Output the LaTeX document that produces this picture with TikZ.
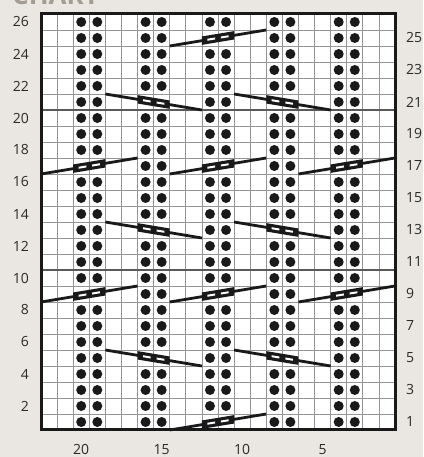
\documentclass[tikz,border=0pt]{standalone}
\usepackage{fontspec}
\setmainfont{Open Sans}
\usetikzlibrary{calc}
\definecolor{bgc}{HTML}{EAE7E2}
\definecolor{titlec}{HTML}{A39C93}
\definecolor{gridc}{HTML}{959595}
\definecolor{gridd}{HTML}{5A5A5A}
\definecolor{labc}{HTML}{2A2A2A}
\tikzset{
  gridline/.style={draw=gridc, line width=0.8pt},
  gridthick/.style={draw=gridd, line width=1.1pt},
  cable/.style={draw=black!90, line width=2.8pt},
  knitdot/.style={fill=black!90},
  lab/.style={inner sep=0pt, text=labc, font=\fontsize{14}{14}\selectfont},
  frame/.style={draw=black!90, line width=3pt}
}
\pgfmathsetmacro\cw{354/22}
\newcommand\cablemark[2]{%
  \fill[black!90] ($(#1)!0.3333!(#2)+(0,-4.2)$) -- ($(#1)!0.6667!(#2)+(0,-4.2)$) --
     ($(#1)!0.6667!(#2)+(0,4.2)$) -- ($(#1)!0.3333!(#2)+(0,4.2)$) -- cycle;
  \fill[white] ($(#1)!0.39!(#2)+(0,-1.0)$) -- ($(#1)!0.47!(#2)+(0,-1.0)$) --
     ($(#1)!0.47!(#2)+(0,1.0)$) -- ($(#1)!0.39!(#2)+(0,1.0)$) -- cycle;
  \fill[white] ($(#1)!0.53!(#2)+(0,-1.0)$) -- ($(#1)!0.61!(#2)+(0,-1.0)$) --
     ($(#1)!0.61!(#2)+(0,1.0)$) -- ($(#1)!0.53!(#2)+(0,1.0)$) -- cycle;
}
% #1 start column index (from left, 0-based), #2 row, #3 name
\newcommand\cableup[3]{%
  \coordinate (#3a) at ({41+#1*\cw},{27+16*(#2-1)});
  \coordinate (#3b) at ({41+(#1+6)*\cw},{27+16*#2});
  \draw[cable] (#3a) -- (#3b);
  \cablemark{#3a}{#3b}}
\newcommand\cabledown[3]{%
  \coordinate (#3a) at ({41+#1*\cw},{27+16*#2});
  \coordinate (#3b) at ({41+(#1+6)*\cw},{27+16*(#2-1)});
  \draw[cable] (#3a) -- (#3b);
  \cablemark{#3a}{#3b}}
\newcommand\dotrow[2]{%
  \foreach \c in {#2} {\fill[knitdot] ({41+(\c+0.5)*\cw},{27+16*(#1-0.5)}) circle (5);}}
\begin{document}
\begin{tikzpicture}[x=1pt,y=1pt]
\useasboundingbox (0,0) rectangle (423,457);
\fill[bgc] (0,0) rectangle (423,457);
\begin{scope}
  \clip (0,0) rectangle (423,457);
  \node[anchor=base west, inner sep=0pt, text=titlec, font=\bfseries\fontsize{26}{26}\selectfont] (title) at (12,452) {CHART};
\end{scope}
\fill[white] (41,27) rectangle (395,443);
\foreach \i in {1,...,21} \draw[gridline] ({41+\i*\cw},27) -- ({41+\i*\cw},443);
\foreach \j in {1,...,25} \draw[gridline] (41,{27+16*\j}) -- (395,{27+16*\j});
\foreach \j in {10,20} \draw[gridthick] (41,{27+16*\j}) -- (395,{27+16*\j});
% dots
\foreach \r in {2,3,4,6,7,8,10,11,12,14,15,16,18,19,20,22,23,24,26} {\dotrow{\r}{2,3,6,7,10,11,14,15,18,19}}
\foreach \r in {1,25} {\dotrow{\r}{2,3,6,7,14,15,18,19}}
\foreach \r in {9,17} {\dotrow{\r}{6,7,14,15}}
\foreach \r in {5,13,21} {\dotrow{\r}{2,3,10,11,18,19}}
% cables
\cableup{8}{25}{ca}
\cabledown{4}{21}{cb}\cabledown{12}{21}{cc}
\cableup{0}{17}{cd}\cableup{8}{17}{ce}\cableup{16}{17}{cf}
\cabledown{4}{13}{cg}\cabledown{12}{13}{ch}
\cableup{0}{9}{ci}\cableup{8}{9}{cj}\cableup{16}{9}{ck}
\cabledown{4}{5}{cl}\cabledown{12}{5}{cm}
\cableup{8}{1}{cn}
\draw[frame] (41,27) rectangle (395,443);
% labels
\foreach \r in {2,4,...,26} \node[lab, anchor=east] (l\r) at (29,{27+16*(\r-0.5)}) {\r};
\foreach \r in {1,3,...,25} \node[lab, anchor=west] (r\r) at (406,{27+16*(\r-0.5)}) {\r};
\foreach \k in {20,15,10,5} \node[lab, anchor=base] (b\k) at ({395-(\k-0.5)*\cw},2) {\k};
\end{tikzpicture}
\end{document}
